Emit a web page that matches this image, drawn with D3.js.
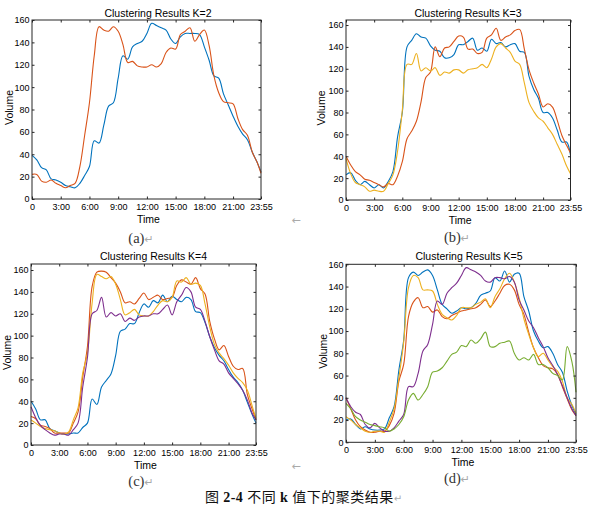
<!DOCTYPE html>
<html>
<head>
<meta charset="utf-8">
<script src="https://cdn.jsdelivr.net/npm/d3@7"></script>
<style>
body { margin: 0; background: #fff; }
</style>
</head>
<body>
<svg id="chart" width="601" height="510"></svg>
<script>
// time grid (hours), one value every 30 min, last point is 23:55
var hours = [0, 0.5, 1, 1.5, 2, 2.5, 3, 3.5, 4, 4.5, 5, 5.5, 6, 6.5, 7, 7.5, 8, 8.5, 9, 9.5,
    10, 10.5, 11, 11.5, 12, 12.5, 13, 13.5, 14, 14.5, 15, 15.5, 16, 16.5, 17, 17.5, 18, 18.5,
    19, 19.5, 20, 20.5, 21, 21.5, 22, 22.5, 23, 23.5, 23.917];

var tickHours = [0, 3, 6, 9, 12, 15, 18, 21, 23.917];
var tickLabels = ["0", "3:00", "6:00", "9:00", "12:00", "15:00", "18:00", "21:00", "23:55"];
var yTicks = [0, 20, 40, 60, 80, 100, 120, 140, 160];

// ----- K=2
var k2Blue = [39, 35, 28, 26, 18, 17, 15, 12, 11, 10, 14, 21, 29, 52, 50, 66, 83, 86, 108, 128, 125, 136, 139, 141, 148, 157, 155, 153, 151, 143, 139, 145, 148, 148, 148, 147, 136, 124, 110, 108, 94, 84, 74, 65, 58, 53, 42, 33, 24];
var k2Orange = [22, 22, 16, 15, 17, 14, 12, 10, 12, 14, 29, 57, 86, 128, 154, 151, 150, 154, 150, 138, 122, 123, 119, 118, 118, 120, 118, 121, 131, 135, 134, 147, 150, 153, 141, 147, 151, 137, 110, 95, 87, 86, 85, 72, 62, 57, 42, 33, 23];

// ----- K=3
var k3Blue = [23, 25, 18, 14, 17, 14, 11, 14, 11, 17, 26, 58, 80, 140, 146, 152, 149, 148, 141, 137, 136, 130, 130, 133, 142, 142, 145, 148, 137, 139, 136, 147, 143, 144, 140, 142, 143, 136, 135, 113, 101, 93, 80, 80, 75, 64, 53, 53, 41];
var k3Orange = [40, 32, 26, 23, 19, 18, 16, 14, 12, 15, 14, 22, 35, 56, 63, 72, 90, 112, 117, 140, 131, 139, 140, 145, 150, 149, 138, 138, 134, 135, 148, 151, 157, 146, 149, 151, 155, 156, 138, 119, 107, 97, 85, 88, 85, 73, 59, 50, 43];
var k3Yellow = [38, 24, 16, 14, 12, 8, 9, 8, 8, 15, 23, 45, 82, 124, 124, 134, 118, 121, 118, 121, 114, 117, 116, 119, 119, 116, 119, 120, 121, 124, 121, 129, 140, 143, 139, 135, 127, 124, 107, 89, 81, 75, 72, 66, 60, 51, 42, 31, 24];

// ----- K=4
var k4Blue = [40, 33, 23, 23, 15, 13, 11, 10, 10, 11, 11, 16, 20, 42, 37, 53, 59, 65, 82, 104, 106, 111, 111, 121, 129, 126, 132, 130, 137, 131, 136, 133, 131, 135, 133, 122, 121, 112, 99, 89, 82, 77, 69, 62, 57, 50, 39, 28, 20];
var k4Orange = [26, 24, 18, 17, 15, 11, 11, 11, 11, 20, 30, 62, 90, 145, 158, 159, 158, 153, 148, 140, 130, 131, 129, 134, 139, 133, 135, 137, 133, 134, 135, 146, 151, 149, 147, 153, 143, 138, 113, 97, 87, 91, 81, 72, 69, 70, 46, 33, 23];
var k4Yellow = [23, 20, 17, 15, 14, 13, 11, 10, 12, 23, 34, 66, 84, 130, 156, 154, 152, 154, 147, 133, 119, 121, 124, 119, 118, 118, 122, 128, 132, 131, 135, 150, 149, 153, 147, 148, 146, 129, 108, 92, 84, 79, 73, 66, 61, 57, 50, 36, 24];
var k4Purple = [35, 25, 18, 14, 11, 9, 10, 10, 9, 14, 20, 53, 80, 120, 123, 135, 117, 121, 118, 120, 113, 116, 114, 117, 118, 118, 120, 120, 124, 128, 119, 131, 137, 144, 140, 126, 124, 113, 99, 87, 77, 74, 66, 61, 56, 50, 41, 29, 23];

// ----- K=5
var k5Blue = [20, 21, 16, 12, 14, 12, 11, 11, 12, 22, 32, 65, 92, 148, 153, 150, 153, 155, 150, 137, 124, 120, 116, 118, 121, 120, 121, 125, 132, 134, 136, 148, 145, 154, 144, 151, 152, 131, 118, 100, 91, 85, 86, 80, 70, 63, 46, 33, 25];
var k5Orange = [40, 30, 20, 14, 11, 9, 9, 10, 10, 15, 26, 55, 70, 113, 126, 130, 121, 122, 117, 119, 113, 111, 114, 116, 118, 119, 120, 121, 124, 128, 122, 127, 134, 141, 142, 137, 124, 115, 99, 85, 76, 69, 67, 66, 61, 50, 39, 29, 24];
var k5Yellow = [23, 20, 16, 13, 10, 9, 10, 10, 9, 18, 30, 58, 90, 139, 150, 148, 137, 137, 136, 124, 115, 112, 110, 114, 121, 121, 121, 124, 126, 129, 121, 131, 138, 147, 152, 144, 130, 111, 97, 85, 77, 80, 74, 68, 64, 55, 40, 34, 26];
var k5Purple = [40, 32, 27, 25, 16, 13, 17, 13, 10, 10, 13, 19, 25, 50, 50, 62, 82, 88, 106, 127, 124, 134, 139, 143, 150, 157, 155, 153, 150, 145, 144, 148, 148, 147, 149, 144, 128, 119, 109, 103, 94, 86, 76, 69, 61, 51, 40, 30, 24];
var k5Green = [35, 30, 23, 20, 18, 16, 15, 14, 13, 10, 12, 16, 23, 38, 44, 38, 43, 50, 63, 64, 67, 73, 79, 81, 87, 86, 92, 89, 93, 99, 86, 86, 89, 90, 91, 80, 74, 76, 74, 79, 70, 70, 67, 62, 60, 56, 86, 72, 45];

var BLUE = "#0072BD", ORANGE = "#D95319", YELLOW = "#EDB120", PURPLE = "#7E2F8E", GREEN = "#77AC30";
var SANS = "Liberation Sans, Arial, sans-serif";
var SERIF = "Liberation Serif, Times New Roman, serif";

var panels = [
    { title: "Clustering Results K=2", sub: "(a)", left: 32, right: 261, top: 20, bottom: 199, ymax: 160,
      titleX: 158, titleY: 17, subX: 141, subY: 243, volX: 13, arrow: true,
      series: [[k2Blue, BLUE], [k2Orange, ORANGE]] },
    { title: "Clustering Results K=3", sub: "(b)", left: 346, right: 570.5, top: 20, bottom: 200, ymax: 164.6,
      titleX: 468, titleY: 16.5, subX: 457, subY: 242, volX: 324.5, arrow: false,
      series: [[k3Blue, BLUE], [k3Orange, ORANGE], [k3Yellow, YELLOW]] },
    { title: "Clustering Results K=4", sub: "(c)", left: 31, right: 256, top: 264, bottom: 445, ymax: 165.5,
      titleX: 153.5, titleY: 260, subX: 141, subY: 486, volX: 10.5, arrow: true,
      series: [[k4Blue, BLUE], [k4Orange, ORANGE], [k4Yellow, YELLOW], [k4Purple, PURPLE]] },
    { title: "Clustering Results K=5", sub: "(d)", left: 346, right: 576, top: 264.3, bottom: 442.3, ymax: 160,
      titleX: 469, titleY: 259.5, subX: 457, subY: 483, volX: 326.5, arrow: false,
      series: [[k5Blue, BLUE], [k5Orange, ORANGE], [k5Yellow, YELLOW], [k5Purple, PURPLE], [k5Green, GREEN]] }
];

var svg = d3.select("#chart");
svg.append("rect").attr("width", 601).attr("height", 510).attr("fill", "#fff");

panels.forEach(function (p) { drawPanel(p); });

function drawPanel(p) {
    var x = d3.scaleLinear().domain([0, 23.917]).range([p.left, p.right]);
    var y = d3.scaleLinear().domain([0, p.ymax]).range([p.bottom, p.top]);
    var g = svg.append("g");
    var axisColor = "#262626";

    var line = d3.line()
        .curve(d3.curveCatmullRom.alpha(0.5))
        .x(function (d, i) { return x(hours[i]); })
        .y(function (d) { return y(d); });

    p.series.forEach(function (s) {
        g.append("path")
            .attr("d", line(s[0]))
            .attr("fill", "none")
            .attr("stroke", s[1])
            .attr("stroke-width", 1.1);
    });

    // box
    g.append("rect")
        .attr("x", p.left).attr("y", p.top)
        .attr("width", p.right - p.left).attr("height", p.bottom - p.top)
        .attr("fill", "none").attr("stroke", axisColor).attr("stroke-width", 1);

    function style(a) {
        a.select(".domain").remove();
        a.selectAll("line").attr("stroke", axisColor);
        a.selectAll("text").attr("fill", "#000")
            .attr("font-family", SANS).attr("font-size", 9);
    }

    // x axis bottom + top ticks
    g.append("g").attr("transform", "translate(0," + p.bottom + ")")
        .call(d3.axisBottom(x).tickValues(tickHours)
            .tickFormat(function (d, i) { return tickLabels[i]; })
            .tickSizeInner(-2.5).tickSizeOuter(0).tickPadding(4.5))
        .call(style);
    g.append("g").attr("transform", "translate(0," + p.top + ")")
        .call(d3.axisTop(x).tickValues(tickHours).tickFormat("").tickSizeInner(-2.5).tickSizeOuter(0))
        .call(style);

    // y axis left + right ticks
    g.append("g").attr("transform", "translate(" + p.left + ",0)")
        .call(d3.axisLeft(y).tickValues(yTicks).tickSizeInner(-2.5).tickSizeOuter(0).tickPadding(2.5))
        .call(style);
    g.append("g").attr("transform", "translate(" + p.right + ",0)")
        .call(d3.axisRight(y).tickValues(yTicks).tickFormat("").tickSizeInner(-2.5).tickSizeOuter(0))
        .call(style);

    // title
    g.append("text")
        .attr("x", p.titleX).attr("y", p.titleY)
        .attr("text-anchor", "middle").attr("font-family", SANS)
        .attr("font-size", 10.5).attr("fill", "#000")
        .text(p.title);

    // axis labels
    g.append("text")
        .attr("x", (p.left + p.right) / 2 + 2).attr("y", p.bottom + 23.5)
        .attr("text-anchor", "middle").attr("font-family", SANS)
        .attr("font-size", 10.5).attr("fill", "#000")
        .text("Time");
    g.append("text")
        .attr("transform", "translate(" + p.volX + "," + ((p.top + p.bottom) / 2 - 2) + ") rotate(-90)")
        .attr("text-anchor", "middle").attr("font-family", SANS)
        .attr("font-size", 10.5).attr("fill", "#000")
        .text("Volume");

    // sub caption
    var sub = g.append("text")
        .attr("x", p.subX).attr("y", p.subY)
        .attr("text-anchor", "middle")
        .attr("font-family", SERIF)
        .attr("font-size", 14.5).attr("fill", "#333");
    sub.append("tspan").text(p.sub);
    sub.append("tspan").attr("fill", "#aaa").attr("font-size", 11)
        .attr("font-family", "DejaVu Sans").text("\u21B5");

    if (p.arrow) {
        g.append("text")
            .attr("x", 296).attr("y", p.bottom + 25)
            .attr("text-anchor", "middle").attr("font-size", 11)
            .attr("font-family", "DejaVu Sans").attr("fill", "#aaa")
            .text("\u2190");
    }
}

// figure caption
var cap = svg.append("text")
    .attr("x", 205).attr("y", 502)
    .attr("font-family", SERIF)
    .attr("font-size", 14).attr("letter-spacing", 0.5).attr("fill", "#111");
cap.append("tspan").attr("font-family", "Noto Sans CJK SC").text("图 ");
cap.append("tspan").attr("font-weight", "bold").text("2-4 ");
cap.append("tspan").attr("font-family", "Noto Sans CJK SC").text("不同 ");
cap.append("tspan").attr("font-weight", "bold").text("k ");
cap.append("tspan").attr("font-family", "Noto Sans CJK SC").text("值下的聚类结果");
cap.append("tspan").attr("font-family", "DejaVu Sans").attr("font-size", 10).attr("fill", "#aaa").text("\u21B5");
</script>
</body>
</html>
